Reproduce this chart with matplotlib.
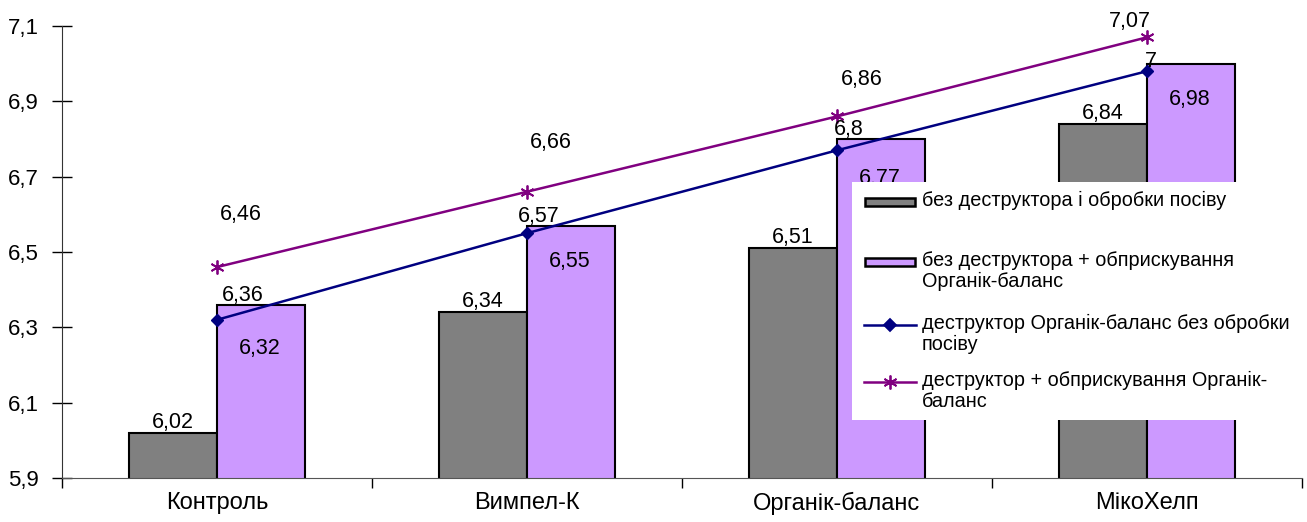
import numpy as np
import matplotlib.pyplot as plt
from matplotlib.patches import Rectangle
from matplotlib.lines import Line2D
from matplotlib.ticker import FixedLocator, NullFormatter

plt.rcParams['font.family'] = ['Liberation Sans', 'DejaVu Sans']

# data
categories = ['Контроль', 'Вимпел-К', 'Органік-баланс', 'МікоХелп']
series_names = [
    'без деструктора і обробки посіву',
    'без деструктора + обприскування\nОрганік-баланс',
    'деструктор Органік-баланс без обробки\nпосіву',
    'деструктор + обприскування Органік-\nбаланс',
]
bar_gray = [6.02, 6.34, 6.51, 6.84]
bar_purple = [6.36, 6.57, 6.80, 7.00]
line_blue = [6.32, 6.55, 6.77, 6.98]
line_purple = [6.46, 6.66, 6.86, 7.07]

GRAY = '#808080'
LILAC = '#cc99ff'
NAVY = '#000080'
PURPLE = '#800080'
W, H = 1307, 522


def fmt(v):
    s = f"{v:.2f}".rstrip('0').rstrip('.')
    return s.replace('.', ',')


def px(xp, yp):
    # pixel position (from top-left) -> figure fraction
    return xp / W, 1 - yp / H


fig = plt.figure(figsize=(W / 100, H / 100), dpi=100)
ax = fig.add_axes([62 / W, 44 / H, 1240 / W, 452 / H])

x = np.arange(len(categories))
w = 0.284

ax.bar(x - w / 2, bar_gray, w, color=GRAY, edgecolor='black', linewidth=1.5, zorder=2)
ax.bar(x + w / 2, bar_purple, w, color=LILAC, edgecolor='black', linewidth=1.5, zorder=2)
ax.plot(x, line_blue, color=NAVY, marker='D', markersize=6, lw=1.8, zorder=3)
ax.plot(x, line_purple, color=PURPLE, marker=(6, 2, 0), markersize=10,
        markeredgewidth=1.3, lw=1.8, zorder=3)

fs = 15.5
# bar labels
for xi, v in zip(x, bar_gray):
    ax.annotate(fmt(v), (xi - w / 2, v), xytext=(0, 0), textcoords='offset points',
                ha='center', va='bottom', fontsize=fs, zorder=4)
purple_dx = [-13, -23, -23, -29]
purple_bdy = [-1, -1, -1, -6]
for xi, v, dx, dy in zip(x, bar_purple, purple_dx, purple_bdy):
    ax.annotate(fmt(v), (xi + w / 2, v), xytext=(dx, dy), textcoords='offset points',
                ha='center', va='bottom', fontsize=fs, zorder=4)
# line labels
for xi, v in zip(x, line_blue):
    ax.annotate(fmt(v), (xi, v), xytext=(31, -13), textcoords='offset points',
                ha='center', va='top', fontsize=fs, zorder=4)
purple_dy = [30, 28, 19, 4]
purple_ldx = [17, 17, 18, -12]
for xi, v, dx, dy in zip(x, line_purple, purple_ldx, purple_dy):
    ax.annotate(fmt(v), (xi, v), xytext=(dx, dy), textcoords='offset points',
                ha='center', va='bottom', fontsize=fs, zorder=4)

ax.set_xlim(-0.5, len(categories) - 0.5)
ax.set_ylim(5.9, 7.1)
yt = [5.9, 6.1, 6.3, 6.5, 6.7, 6.9, 7.1]
ax.set_yticks(yt)
ax.set_yticklabels([f"{t:.1f}".replace('.', ',') for t in yt], fontsize=16)
ax.tick_params(axis='y', direction='inout', length=14, width=1, pad=10)

ax.xaxis.set_major_locator(FixedLocator(np.arange(-0.5, len(categories), 1.0)))
ax.xaxis.set_major_formatter(NullFormatter())
ax.xaxis.set_minor_locator(FixedLocator(x))
ax.set_xticklabels(categories, minor=True, fontsize=17)
ax.tick_params(axis='x', which='major', direction='out', length=7, width=1)
ax.tick_params(axis='x', which='minor', length=0, pad=10)

for s in ['top', 'right']:
    ax.spines[s].set_visible(False)
ax.spines['left'].set_color('#333333')
ax.spines['bottom'].set_color('#555555')

# legend drawn by hand (white box, no frame)
x0, y0 = px(852, 420)
x1, y1 = px(1307, 182)
fig.add_artist(Rectangle((x0, y0), x1 - x0, y1 - y0, transform=fig.transFigure,
                         facecolor='white', edgecolor='none', zorder=5))
entry_y = [202, 262, 325, 382]
lfs = 14.3
for i, (name, yy) in enumerate(zip(series_names, entry_y)):
    if i < 2:
        hx, hy = px(865, yy - 4)
        hx2, hy2 = px(915, yy + 4)
        fig.add_artist(Rectangle((hx, hy2), hx2 - hx, hy - hy2, transform=fig.transFigure,
                                 facecolor=[GRAY, LILAC][i], edgecolor='black',
                                 linewidth=1.8, zorder=6))
    else:
        color = [NAVY, PURPLE][i - 2]
        mk = ['D', (6, 2, 0)][i - 2]
        ms = [6, 10][i - 2]
        lx, ly = px(864, yy)
        lx2, _ = px(916, yy)
        fig.add_artist(Line2D([lx, lx2], [ly, ly], transform=fig.transFigure,
                              color=color, lw=1.8, zorder=6))
        fig.add_artist(Line2D([(lx + lx2) / 2], [ly], transform=fig.transFigure,
                              color=color, marker=mk, markersize=ms,
                              markeredgewidth=1.3, zorder=6))
    tx, ty = px(922, yy - 11)
    fig.text(tx, ty, name, ha='left', va='top', fontsize=lfs, linespacing=1.12,
             zorder=7)

fig.savefig('out.png', dpi=100)
